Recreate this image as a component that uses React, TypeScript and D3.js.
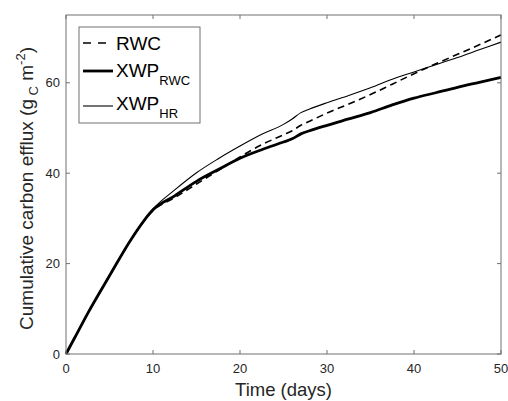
import React from "react";
import * as d3 from "d3";

const time = [0, 1, 2.5, 5, 7.5, 10, 12.5, 15, 17.5, 20, 22.5, 25, 26, 27, 28, 30, 32.5, 35, 37.5, 40, 42.5, 45, 47.5, 50];
const rwc = [0, 3.6, 9.0, 17.3, 25.4, 31.7, 34.6, 37.6, 40.6, 43.6, 46.3, 48.5, 49.4, 50.6, 51.5, 53.3, 55.3, 57.4, 59.7, 62.0, 64.2, 66.3, 68.4, 70.6];
const xwpRwc = [0, 3.6, 9.0, 17.3, 25.4, 31.9, 35.0, 38.2, 40.8, 43.3, 45.2, 46.9, 47.6, 48.7, 49.4, 50.6, 52.0, 53.4, 55.1, 56.6, 57.8, 59.0, 60.1, 61.2];
const xwpHr = [0, 3.6, 9.0, 17.3, 25.4, 32.1, 36.3, 40.1, 43.2, 46.0, 48.6, 50.8, 52.0, 53.4, 54.2, 55.6, 57.2, 58.9, 60.8, 62.4, 64.0, 65.6, 67.3, 69.0];
const xTicks = [0, 10, 20, 30, 40, 50];
const yTicks = [0, 20, 40, 60];

const W = 508, H = 401;
const M = { left: 66, right: 501, top: 15, bottom: 354 };
const FONT = "'Liberation Sans', Arial, Helvetica, sans-serif";
const AX = "#707070";
const TXT = "#262626";

export default function App() {
  const x = d3.scaleLinear().domain([0, 50]).range([M.left, M.right]);
  const y = d3.scaleLinear().domain([0, 75]).range([M.bottom, M.top]);
  const mk = (vals: number[]) =>
    d3.line<number>().x((_, i) => x(time[i])).y((d) => y(d)).curve(d3.curveMonotoneX)(vals) || "";
  const tl = 4;
  return (
    <svg width={W} height={H} style={{ position: "absolute", left: 0, top: 0, background: "#fff" }} fontFamily={FONT}>
      <rect x={0} y={0} width={W} height={H} fill="#fff" />
      {/* data lines */}
      <g fill="none" stroke="#000" strokeLinejoin="round">
        <path d={mk(xwpRwc)} strokeWidth={2.8} />
        <path d={mk(xwpHr)} strokeWidth={1.1} />
        <path d={mk(rwc)} strokeWidth={1.6} strokeDasharray="7,4.5" />
      </g>
      {/* axes box */}
      <rect x={M.left} y={M.top} width={M.right - M.left} height={M.bottom - M.top} fill="none" stroke={AX} strokeWidth={1} />
      {xTicks.map((t) => (
        <g key={"x" + t}>
          <line x1={x(t)} x2={x(t)} y1={M.bottom} y2={M.bottom - tl} stroke={AX} />
          <line x1={x(t)} x2={x(t)} y1={M.top} y2={M.top + tl} stroke={AX} />
          <text x={x(t)} y={M.bottom + 19} textAnchor="middle" fontSize={13} fill={TXT}>{t}</text>
        </g>
      ))}
      {yTicks.map((t) => (
        <g key={"y" + t}>
          <line x1={M.left} x2={M.left + tl} y1={y(t)} y2={y(t)} stroke={AX} />
          <line x1={M.right} x2={M.right - tl} y1={y(t)} y2={y(t)} stroke={AX} />
          <text x={M.left - 6} y={y(t) + 4.5} textAnchor="end" fontSize={13} fill={TXT}>{t}</text>
        </g>
      ))}
      {/* axis labels */}
      <text x={(M.left + M.right) / 2} y={396} textAnchor="middle" fontSize={18.5} fill={TXT}>Time (days)</text>
      <text transform={`translate(33,${(M.top + M.bottom) / 2 + 4}) rotate(-90)`} textAnchor="middle" fontSize={19} fill={TXT}>
        Cumulative carbon efflux (g<tspan fontSize={13} dy={5}> C</tspan><tspan dy={-5}> m</tspan>
        <tspan fontSize={13} dy={-8}>-2</tspan><tspan dy={8}>)</tspan>
      </text>
      {/* legend */}
      <rect x={79} y={27} width={121} height={96} fill="#fff" stroke={AX} strokeWidth={1} />
      <line x1={83} x2={113} y1={43} y2={43} stroke="#000" strokeWidth={1.6} strokeDasharray="8,7" />
      <text x={116} y={50} fontSize={19} fill="#000">RWC</text>
      <line x1={83} x2={113} y1={71} y2={71} stroke="#000" strokeWidth={2.8} />
      <text x={116} y={77} fontSize={19} fill="#000">XWP<tspan fontSize={13} dy={8}>RWC</tspan></text>
      <line x1={83} x2={113} y1={106} y2={106} stroke="#000" strokeWidth={1.1} />
      <text x={116} y={110} fontSize={19} fill="#000">XWP<tspan fontSize={13} dy={8}>HR</tspan></text>
    </svg>
  );
}
